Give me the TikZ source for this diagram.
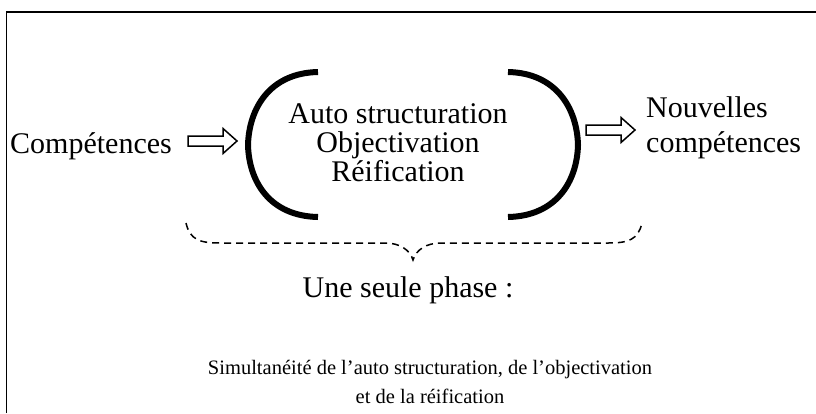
\documentclass[tikz,border=0pt]{standalone}
\usepackage{fontspec}
\setmainfont{Liberation Serif}

\tikzset{
  bigtxt/.style={inner sep=0pt, font=\fontsize{30}{29}\selectfont},
  smalltxt/.style={inner sep=0pt, font=\fontsize{20.5}{29}\selectfont},
  paren/.style={line width=6pt},
  brace/.style={dash pattern=on 7pt off 5pt, line width=1.5pt},
  pics/hollowarrow/.style={code={
    \draw[line width=1.5pt, line join=miter] (0,-5) -- ++(35,0) -- ++(0,-7.5) -- ++(14,12.5)
      -- ++(-14,12.5) -- ++(0,-7.5) -- ++(-35,0) -- cycle;
  }}
}

\begin{document}
\begin{tikzpicture}[x=1pt, y=-1pt]
    \useasboundingbox (0,0) rectangle (816,413);
    % frame
    \draw[line width=1.5pt] (6.5,413) -- (6.5,12) -- (816,12);

    % texts (base = last line)
    \node[bigtxt, anchor=base west] (comp) at (10,153) {Compétences};
    \node[bigtxt, anchor=base, align=center] (steps) at (398,181)
        {Auto structuration\\Objectivation\\Réification};
    \node[bigtxt, anchor=base west, align=left, font=\fontsize{30}{35}\selectfont] (nouv) at (646,152)
        {Nouvelles\\compétences};
    \node[bigtxt, anchor=base] (phase) at (408,297) {Une seule phase :};
    \node[smalltxt, anchor=base, align=center] (simul) at (430,403)
        {Simultanéité de l’auto structuration, de l’objectivation\\et de la réification};

    % arrows
    \pic at (188,141) {hollowarrow};
    \pic at (586,130) {hollowarrow};

    % parentheses
    \draw[paren] (318,72) .. controls (270,73) and (249,108) .. (248,145)
        .. controls (249,182) and (270,216) .. (318,217);
    \draw[paren] (508,72) .. controls (556,73) and (577,108) .. (578,145)
        .. controls (577,182) and (556,216) .. (508,217);

    % brace
    \draw[brace] (186,223) .. controls (190,240) and (200,243) .. (220,243) -- (385,243)
        .. controls (400,243) and (410,250) .. (413,260)
        .. controls (416,250) and (426,243) .. (441,243) -- (608,243)
        .. controls (628,243) and (638,240) .. (642,223);
\end{tikzpicture}
\end{document}
